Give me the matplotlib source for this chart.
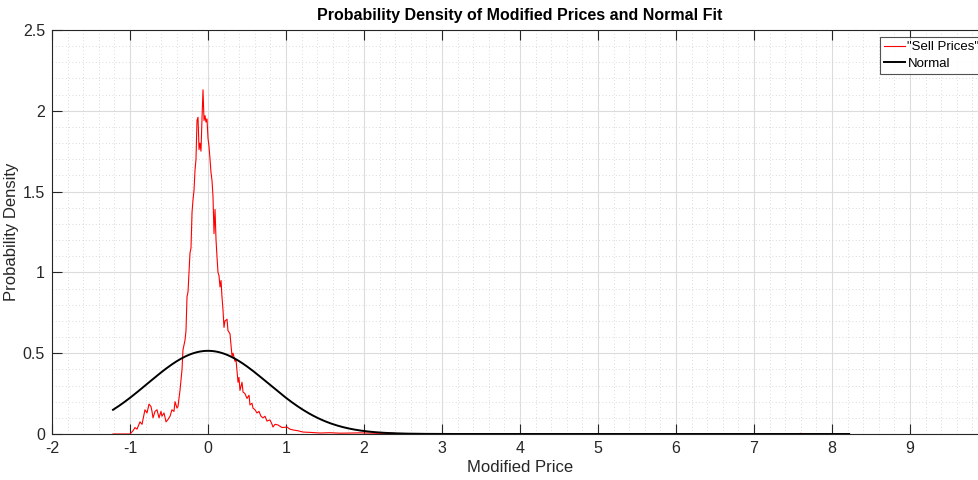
import matplotlib
matplotlib.use('Agg')
from matplotlib import pyplot as plt
from matplotlib.ticker import MultipleLocator
import numpy as np

plt.rcParams['font.family'] = ['Liberation Sans', 'DejaVu Sans']
plt.rcParams['axes.unicode_minus'] = False

# empirical density of the modified sell prices
price = [-1.218, -1.000, -0.962, -0.936, -0.910, -0.872, -0.846, -0.808, -0.782, -0.756,
         -0.731, -0.718, -0.705, -0.679, -0.654, -0.628, -0.603, -0.590, -0.564, -0.538,
         -0.513, -0.487, -0.462, -0.436, -0.423, -0.397, -0.385, -0.359, -0.333, -0.321,
         -0.295, -0.282, -0.269, -0.256, -0.231, -0.218, -0.205, -0.192, -0.179, -0.167,
         -0.154, -0.141, -0.128, -0.115, -0.103, -0.090, -0.077, -0.064, -0.051, -0.038,
         -0.026, -0.013, 0.000, 0.013, 0.026, 0.038, 0.051, 0.064, 0.077, 0.090,
         0.103, 0.115, 0.128, 0.141, 0.154, 0.167, 0.179, 0.192, 0.205, 0.218,
         0.244, 0.256, 0.282, 0.295, 0.308, 0.321, 0.346, 0.359, 0.385, 0.397,
         0.410, 0.436, 0.449, 0.474, 0.500, 0.526, 0.538, 0.564, 0.577, 0.603,
         0.628, 0.654, 0.679, 0.705, 0.731, 0.756, 0.795, 0.821, 0.833, 0.859,
         0.897, 0.949, 1.013, 1.051, 1.090, 1.154, 1.218, 1.308, 1.436, 1.564,
         1.692, 1.949, 2.205, 2.372, 2.462, 3.000, 5.000, 7.550, 7.600, 7.650, 8.220]
density = [0.000, 0.000, 0.020, 0.040, 0.030, 0.075, 0.060, 0.150, 0.130, 0.185,
           0.170, 0.140, 0.100, 0.140, 0.150, 0.100, 0.140, 0.110, 0.130, 0.075,
           0.090, 0.110, 0.150, 0.140, 0.200, 0.160, 0.170, 0.270, 0.400, 0.520,
           0.580, 0.640, 0.850, 0.880, 1.120, 1.150, 1.370, 1.450, 1.510, 1.630,
           1.700, 1.940, 1.960, 1.760, 1.800, 1.750, 1.950, 2.130, 1.940, 1.970,
           1.930, 1.950, 1.830, 1.780, 1.700, 1.620, 1.570, 1.470, 1.240, 1.390,
           1.200, 1.100, 1.000, 0.980, 0.910, 0.950, 0.850, 0.770, 0.660, 0.700,
           0.710, 0.640, 0.620, 0.550, 0.480, 0.500, 0.450, 0.460, 0.320, 0.350,
           0.270, 0.320, 0.260, 0.250, 0.220, 0.240, 0.180, 0.190, 0.160, 0.150,
           0.130, 0.140, 0.110, 0.100, 0.110, 0.080, 0.087, 0.060, 0.043, 0.060,
           0.056, 0.040, 0.043, 0.030, 0.025, 0.020, 0.012, 0.010, 0.006, 0.008,
           0.005, 0.007, 0.004, 0.005, 0.001, 0.000, 0.000, 0.000, 0.004, 0.000, 0.000]

# normal fit parameters
mu = 0.0
sigma = 0.775
x_min, x_max = -1.218, 8.22

xs = np.linspace(x_min, x_max, 500)
pdf = np.exp(-0.5 * ((xs - mu) / sigma) ** 2) / (sigma * np.sqrt(2 * np.pi))

fig = plt.figure(figsize=(9.79, 4.8), dpi=100)
ax = fig.add_axes([52 / 979, 46 / 480, 936 / 979, 404 / 480])

ax.plot(price, density, color='red', lw=0.8, label='"Sell Prices"')
ax.plot(xs, pdf, color='black', lw=1.4, label='Normal')

ax.set_xlim(-2, 10)
ax.set_ylim(0, 2.5)
ax.xaxis.set_minor_locator(MultipleLocator(0.2))
ax.yaxis.set_minor_locator(MultipleLocator(0.1))
ax.set_xticks(range(-2, 10))
ax.set_yticks([0, 0.5, 1, 1.5, 2, 2.5])
ax.set_yticklabels(['0', '0.5', '1', '1.5', '2', '2.5'])

ax.grid(True, which='major', color='#dcdcdc', lw=0.8)
ax.grid(True, which='minor', color='#cfcfcf', lw=0.6, ls=(0, (1, 3)))
ax.set_axisbelow(True)

ax.tick_params(which='major', direction='in', length=7, width=0.8, color='#262626',
               labelsize=11.5, labelcolor='#262626', top=True, right=True, pad=5)
ax.tick_params(which='minor', length=0)
for s in ax.spines.values():
    s.set_color('#262626')
    s.set_linewidth(0.8)

ax.set_title('Probability Density of Modified Prices and Normal Fit',
             fontsize=11.5, fontweight='bold', pad=7)
ax.set_xlabel('Modified Price', fontsize=12, color='#262626', labelpad=3)
ax.set_ylabel('Probability Density', fontsize=12, color='#262626', labelpad=3)

leg = ax.legend(loc='upper left', bbox_to_anchor=(0.885, 0.982), fontsize=9.5,
                frameon=True, fancybox=False, handlelength=1.6, handletextpad=0.15,
                borderpad=0.3, labelspacing=0.3, borderaxespad=0)
leg.get_frame().set_edgecolor('#262626')
leg.get_frame().set_linewidth(0.8)

fig.savefig('out.png', dpi=100)
